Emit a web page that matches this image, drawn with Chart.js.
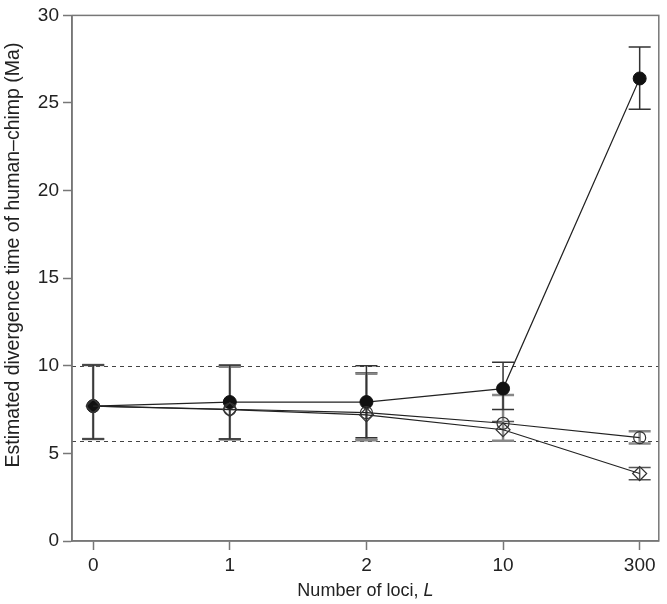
<!DOCTYPE html>
<html>
<head>
<meta charset="utf-8">
<script src="https://cdn.jsdelivr.net/npm/chart.js@4/dist/chart.umd.min.js"></script>
<style>
  html, body { margin: 0; padding: 0; background: #fff; }
  #wrap { width: 667px; height: 604px; }
</style>
</head>
<body>
<div id="wrap"><canvas id="grafico" width="667" height="604"></canvas></div>
<script>
// categorias do eixo x (numero de loci)
const categories = ['0', '1', '2', '10', '300'];

// serie com circulo cheio
const filledMean = [7.7, 7.93, 7.93, 8.7, 26.4];
const filledLow  = [5.82, 5.82, 5.9, 7.5, 24.65];
const filledHigh = [10.05, 10.05, 10.0, 10.2, 28.2];

// serie com circulo aberto
const circleMean = [7.7, 7.52, 7.33, 6.72, 5.9];
const circleLow  = [5.82, 5.8, 5.75, 5.72, 5.57];
const circleHigh = [10.05, 9.95, 9.55, 8.33, 6.27];

// serie com losango aberto
const diamondMean = [7.7, 7.5, 7.2, 6.35, 3.85];
const diamondLow  = [5.82, 5.82, 5.8, 5.72, 3.49];
const diamondHigh = [10.05, 10.0, 9.6, 6.82, 4.19];

// linhas tracejadas de referencia
const refLines = [5.7, 10];

const yTicks = [0, 5, 10, 15, 20, 25, 30];

const FONT = "'Liberation Sans', Arial, Helvetica, sans-serif";

const pts = arr => arr.map((v, i) => ({ x: i, y: v }));

const errorBars = {
  id: 'errorBars',
  beforeDatasetsDraw(chart) {
    const { ctx, chartArea, scales: { x, y } } = chart;
    ctx.save();
    // linhas tracejadas
    ctx.strokeStyle = '#444';
    ctx.lineWidth = 1;
    ctx.setLineDash([4, 4]);
    refLines.forEach(v => {
      const py = Math.round(y.getPixelForValue(v)) + 0.5;
      ctx.beginPath();
      ctx.moveTo(chartArea.left, py);
      ctx.lineTo(chartArea.right, py);
      ctx.stroke();
    });
    ctx.setLineDash([]);
    // barras de erro
    chart.data.datasets.forEach(ds => {
      ctx.strokeStyle = ds.errColor;
      ctx.lineWidth = ds.errWidth;
      ds.low.forEach((lo, i) => {
        const px = x.getPixelForValue(i);
        const y1 = y.getPixelForValue(lo);
        const y2 = y.getPixelForValue(ds.high[i]);
        ctx.beginPath();
        ctx.moveTo(px, y1); ctx.lineTo(px, y2);
        ctx.moveTo(px - 11, y1); ctx.lineTo(px + 11, y1);
        ctx.moveTo(px - 11, y2); ctx.lineTo(px + 11, y2);
        ctx.stroke();
      });
    });
    ctx.restore();
  },
  afterDraw(chart) {
    const { ctx, chartArea } = chart;
    ctx.save();
    // moldura
    ctx.strokeStyle = '#777';
    ctx.lineWidth = 1.5;
    ctx.strokeRect(chartArea.left, chartArea.top, chartArea.right - chartArea.left, chartArea.bottom - chartArea.top);
    // titulo do eixo x com L em italico
    ctx.fillStyle = '#222';
    ctx.textBaseline = 'middle';
    const part1 = 'Number of loci, ';
    const part2 = 'L';
    ctx.font = `18px ${FONT}`;
    const w1 = ctx.measureText(part1).width;
    ctx.font = `italic 18px ${FONT}`;
    const w2 = ctx.measureText(part2).width;
    const cx = (chartArea.left + chartArea.right) / 2;
    let sx = cx - (w1 + w2) / 2;
    ctx.font = `18px ${FONT}`;
    ctx.textAlign = 'left';
    ctx.fillText(part1, sx, 591);
    ctx.font = `italic 18px ${FONT}`;
    ctx.fillText(part2, sx + w1, 591);
    // titulo do eixo y
    ctx.translate(14, 255);
    ctx.rotate(-Math.PI / 2);
    ctx.textAlign = 'center';
    ctx.font = `19.5px ${FONT}`;
    ctx.fillText('Estimated divergence time of human\u2013chimp (Ma)', 0, 0);
    ctx.restore();
  }
};

const ctx = document.getElementById('grafico').getContext('2d');
const chart = new Chart(ctx, {
  type: 'line',
  data: {
    datasets: [
      {
        label: 'diamond',
        data: pts(diamondMean),
        low: diamondLow, high: diamondHigh,
        errColor: '#555', errWidth: 1.5,
        borderColor: '#222', borderWidth: 1.2,
        pointStyle: 'rectRot', pointRadius: 7,
        pointBackgroundColor: 'rgba(0,0,0,0)', pointBorderColor: '#333', pointBorderWidth: 1.2
      },
      {
        label: 'circle',
        data: pts(circleMean),
        low: circleLow, high: circleHigh,
        errColor: '#888', errWidth: 2.5,
        borderColor: '#222', borderWidth: 1.2,
        pointStyle: 'circle', pointRadius: 6,
        pointBackgroundColor: 'rgba(0,0,0,0)', pointBorderColor: '#333', pointBorderWidth: 1.2
      },
      {
        label: 'filled',
        data: pts(filledMean),
        low: filledLow, high: filledHigh,
        errColor: '#333', errWidth: 1.5,
        borderColor: '#222', borderWidth: 1.2,
        pointStyle: 'circle', pointRadius: 6.5,
        pointBackgroundColor: '#111', pointBorderColor: '#111', pointBorderWidth: 1
      }
    ]
  },
  options: {
    responsive: false,
    animation: false,
    events: [],
    layout: { padding: { top: 11, right: 6, left: 0, bottom: 0 } },
    plugins: { legend: { display: false }, tooltip: { enabled: false } },
    scales: {
      x: {
        type: 'linear',
        min: -0.155,
        max: 4.14,
        afterFit: s => { s.height = 63; },
        afterBuildTicks: s => { s.ticks = categories.map((c, i) => ({ value: i })); },
        ticks: {
          callback: v => categories[v],
          color: '#222',
          font: { family: FONT, size: 19 },
          padding: 4,
          maxRotation: 0
        },
        grid: { drawOnChartArea: false, tickLength: 9, color: '#777', tickWidth: 1.5 },
        border: { color: '#777', width: 1.5 }
      },
      y: {
        min: 0,
        max: 30,
        afterFit: s => { s.width = 72; },
        afterBuildTicks: s => { s.ticks = yTicks.map(v => ({ value: v })); },
        ticks: {
          color: '#222',
          font: { family: FONT, size: 19 },
          padding: 4
        },
        grid: { drawOnChartArea: false, tickLength: 9, color: '#777', tickWidth: 1.5 },
        border: { color: '#777', width: 1.5 }
      }
    }
  },
  plugins: [errorBars]
});
</script>
</body>
</html>
